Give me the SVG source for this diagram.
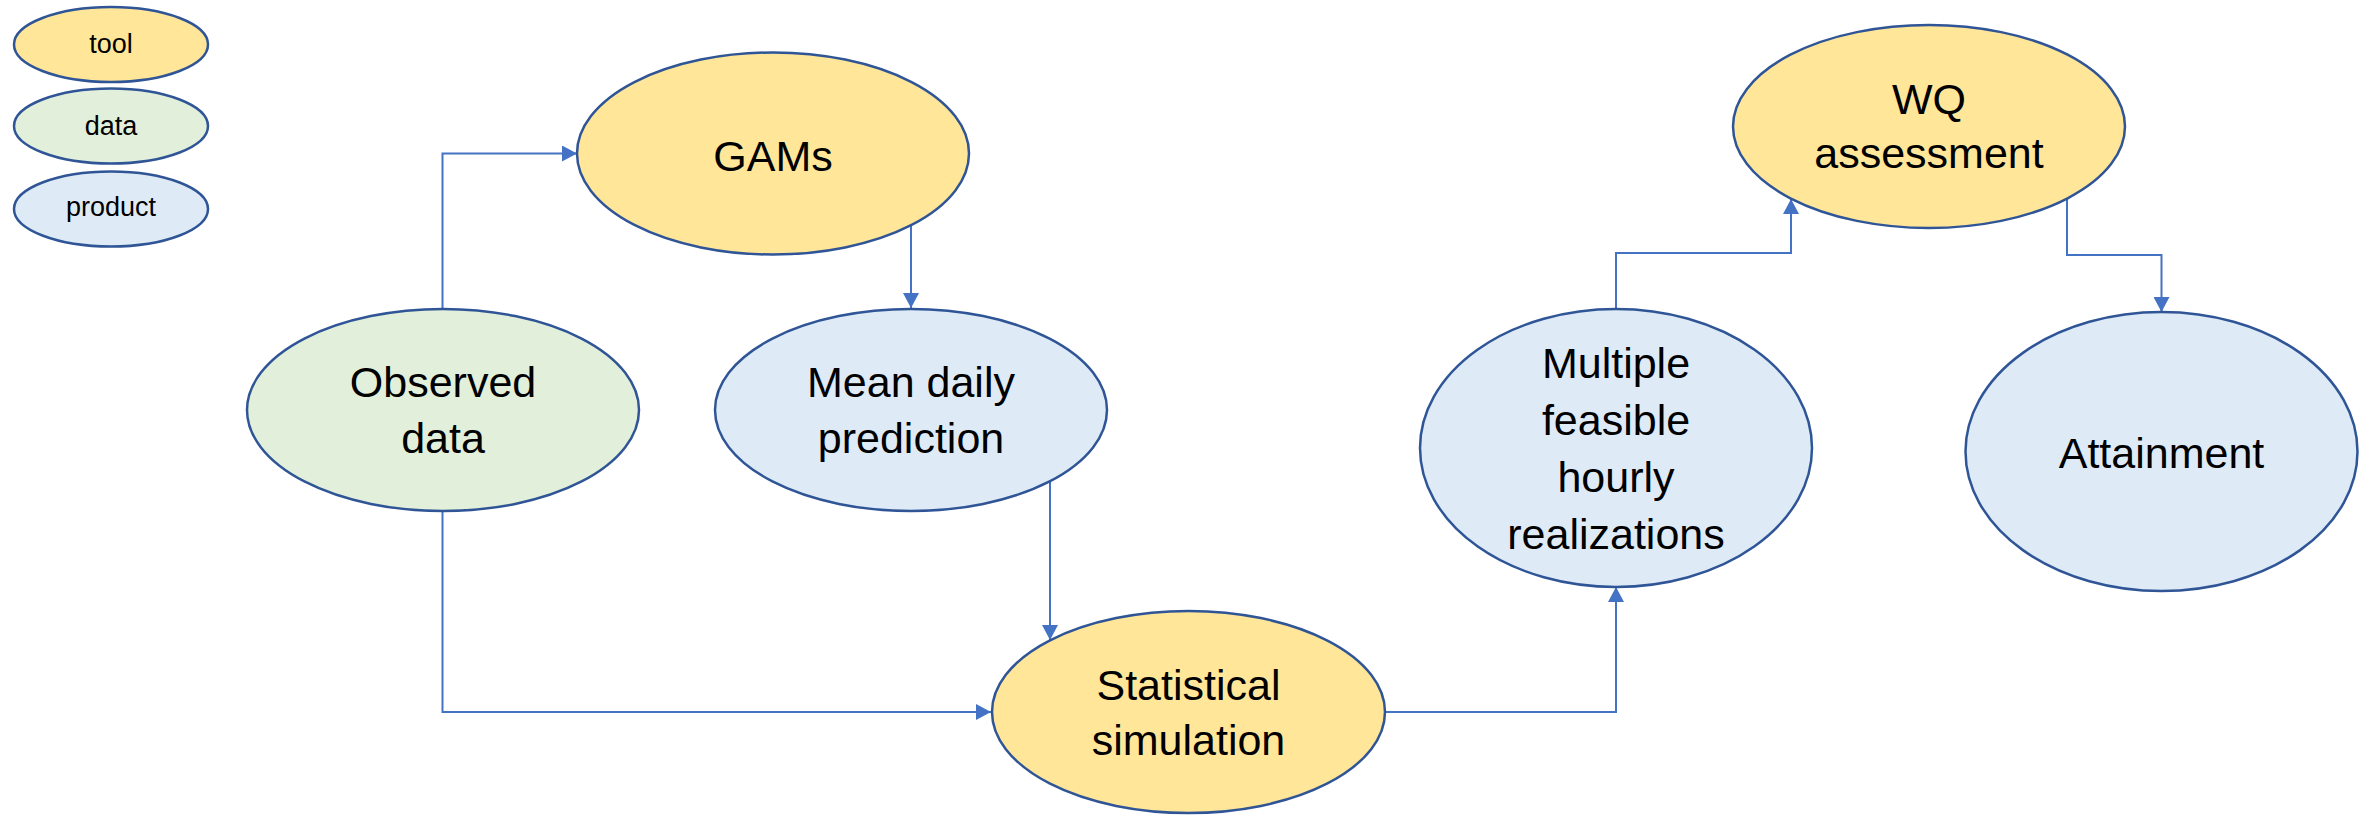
<svg xmlns="http://www.w3.org/2000/svg" width="2368" height="816" viewBox="0 0 2368 816">
  <style>
    .node { stroke: #2F5597; stroke-width: 2.5; }
    .tool { fill: #FFE699; }
    .data { fill: #E2EFDA; }
    .product { fill: #DEEBF7; }
    .label { font-family: "Liberation Sans", Arial, sans-serif; font-size: 43px; fill: #000; text-anchor: middle; }
    .legend { font-family: "Liberation Sans", Arial, sans-serif; font-size: 27px; fill: #000; text-anchor: middle; }
    .conn { fill: none; stroke: #4472C4; stroke-width: 2; }
  </style>
  <defs>
    <marker id="arrow" viewBox="0 0 15 16" refX="15" refY="8" markerWidth="15" markerHeight="16" markerUnits="userSpaceOnUse" orient="auto">
      <path d="M0,0 L15,8 L0,16 z" fill="#4472C4"/>
    </marker>
  </defs>
  <rect width="2368" height="816" fill="#FFFFFF"/>

  <!-- legend -->
  <g id="legend">
    <g id="legend-tool">
      <ellipse class="node tool" cx="111" cy="44.5" rx="97" ry="37.5"/>
      <text class="legend" x="111" y="53">tool</text>
    </g>
    <g id="legend-data">
      <ellipse class="node data" cx="111" cy="126" rx="97" ry="37.5"/>
      <text class="legend" x="111" y="135">data</text>
    </g>
    <g id="legend-product">
      <ellipse class="node product" cx="111" cy="209" rx="97" ry="37.5"/>
      <text class="legend" x="111" y="216">product</text>
    </g>
  </g>

  <!-- connectors -->
  <g id="connectors">
    <path class="conn" d="M442.5,309 V153.5 H577" marker-end="url(#arrow)"/>
    <path class="conn" d="M911,225 V308" marker-end="url(#arrow)"/>
    <path class="conn" d="M1050,482 V640" marker-end="url(#arrow)"/>
    <path class="conn" d="M442.5,511 V712 H991" marker-end="url(#arrow)"/>
    <path class="conn" d="M1385,712 H1616 V587" marker-end="url(#arrow)"/>
    <path class="conn" d="M1616,309 V253 H1791 V199" marker-end="url(#arrow)"/>
    <path class="conn" d="M2067,198 V255 H2161.5 V312" marker-end="url(#arrow)"/>
  </g>

  <!-- nodes -->
  <g id="gams">
    <ellipse class="node tool" cx="773" cy="153.5" rx="196" ry="101"/>
    <text class="label" x="773" y="171">GAMs</text>
  </g>
  <g id="observed-data">
    <ellipse class="node data" cx="443" cy="410" rx="196" ry="101"/>
    <text class="label" x="443" y="397">Observed</text>
    <text class="label" x="443" y="453">data</text>
  </g>
  <g id="mean-daily-prediction">
    <ellipse class="node product" cx="911" cy="410" rx="196" ry="101"/>
    <text class="label" x="911" y="397">Mean daily</text>
    <text class="label" x="911" y="453">prediction</text>
  </g>
  <g id="statistical-simulation">
    <ellipse class="node tool" cx="1188.5" cy="712" rx="196.5" ry="101"/>
    <text class="label" x="1188.5" y="700">Statistical</text>
    <text class="label" x="1188.5" y="755">simulation</text>
  </g>
  <g id="multiple-realizations">
    <ellipse class="node product" cx="1616" cy="448" rx="196" ry="139"/>
    <text class="label" x="1616" y="378">Multiple</text>
    <text class="label" x="1616" y="435">feasible</text>
    <text class="label" x="1616" y="492">hourly</text>
    <text class="label" x="1616" y="549">realizations</text>
  </g>
  <g id="wq-assessment">
    <ellipse class="node tool" cx="1929" cy="126.5" rx="196" ry="101.5"/>
    <text class="label" x="1929" y="114">WQ</text>
    <text class="label" x="1929" y="168">assessment</text>
  </g>
  <g id="attainment">
    <ellipse class="node product" cx="2161.5" cy="451.5" rx="196" ry="139.5"/>
    <text class="label" x="2161.5" y="468">Attainment</text>
  </g>
</svg>
